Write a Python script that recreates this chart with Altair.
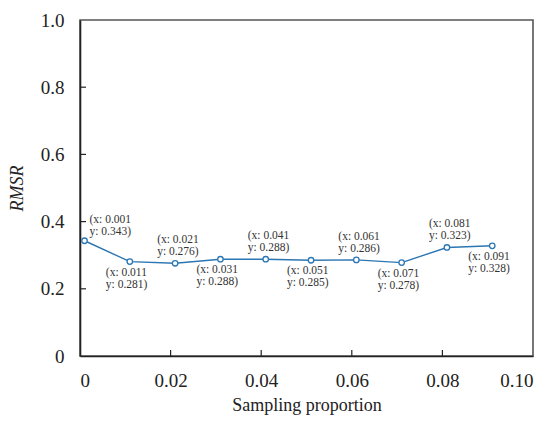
import altair as alt
import pandas as pd

# RMSR for each sampling proportion
proportion = [0.001, 0.011, 0.021, 0.031, 0.041, 0.051, 0.061, 0.071, 0.081, 0.091]
rmsr = [0.343, 0.281, 0.276, 0.288, 0.288, 0.285, 0.286, 0.278, 0.323, 0.328]

x_ticks = [0, 0.02, 0.04, 0.06, 0.08, 0.10]
y_ticks = [0, 0.2, 0.4, 0.6, 0.8, 1.0]

df = pd.DataFrame({"x": proportion, "y": rmsr})
df["idx"] = range(len(df))
df["label"] = [f"(x: {a:.3f}\ny: {b:.3f})" for a, b in zip(proportion, rmsr)]

W, H = 453, 336
FONT = "Times New Roman, Liberation Serif, serif"
BLUE = "#2b76b3"

x_scale = alt.Scale(domain=[0, 0.1], nice=False)
y_scale = alt.Scale(domain=[0, 1.0], nice=False)

base = alt.Chart(df)

line = base.mark_line(color=BLUE, strokeWidth=1.4).encode(
    x=alt.X("x:Q", scale=x_scale,
            axis=alt.Axis(values=x_ticks, title="Sampling proportion", ticks=False,
                          labelExpr="datum.value == 0 ? '0' : format(datum.value, '.2f')",
                          labelFontSize=19, labelPadding=15, titleFontSize=18,
                          titlePadding=6, grid=False)),
    y=alt.Y("y:Q", scale=y_scale,
            axis=alt.Axis(values=y_ticks, title="RMSR", ticks=False,
                          labelExpr="datum.value == 0 ? '0' : format(datum.value, '.1f')",
                          labelFontSize=19, labelPadding=16, titleFontSize=18,
                          titleFontStyle="italic", titlePadding=14, grid=False)),
)

points = base.mark_point(shape="circle", filled=True, fill="white", stroke=BLUE,
                         strokeWidth=1.3, size=30, opacity=1).encode(
    x=alt.X("x:Q", scale=x_scale),
    y=alt.Y("y:Q", scale=y_scale),
)

label_style = dict(lineBreak="\n", font=FONT, fontSize=11.5, color="#333333",
                   align="left", baseline="top", lineHeight=12)

first_label = base.transform_filter("datum.idx == 0").mark_text(
    dx=5, dy=-27, **label_style).encode(
    x=alt.X("x:Q", scale=x_scale), y=alt.Y("y:Q", scale=y_scale), text="label:N")

upper_labels = base.transform_filter("datum.idx > 0 && datum.idx % 2 == 0").mark_text(
    dx=-18, dy=-29, **label_style).encode(
    x=alt.X("x:Q", scale=x_scale), y=alt.Y("y:Q", scale=y_scale), text="label:N")

lower_labels = base.transform_filter("datum.idx % 2 == 1").mark_text(
    dx=-24, dy=5, **label_style).encode(
    x=alt.X("x:Q", scale=x_scale), y=alt.Y("y:Q", scale=y_scale), text="label:N")

# inward tick marks on the left and bottom axes
tick_df_y = pd.DataFrame({"v": y_ticks[1:-1]})
tick_df_x = pd.DataFrame({"v": x_ticks[1:-1]})

y_tick_marks = alt.Chart(tick_df_y).mark_rule(color="#222", strokeWidth=1.2).encode(
    y=alt.Y("v:Q", scale=y_scale), x=alt.value(0), x2=alt.value(6))
x_tick_marks = alt.Chart(tick_df_x).mark_rule(color="#222", strokeWidth=1.2).encode(
    x=alt.X("v:Q", scale=x_scale), y=alt.value(H), y2=alt.value(H - 6))

chart = alt.layer(
    line, points, first_label, upper_labels, lower_labels, y_tick_marks, x_tick_marks
).properties(
    width=W, height=H,
    autosize=alt.AutoSizeParams(type="none"),
    padding={"left": 80, "top": 20, "right": 19, "bottom": 65},
    background="white",
).configure_view(
    stroke="#555555", strokeWidth=1.6
).configure_axis(
    domainColor="#222222", domainWidth=1.6,
    labelFont=FONT, titleFont=FONT, labelColor="#222", titleColor="#222",
    titleFontWeight="normal",
)

chart.save("out.html", embed_options={"renderer": "svg", "actions": False})
